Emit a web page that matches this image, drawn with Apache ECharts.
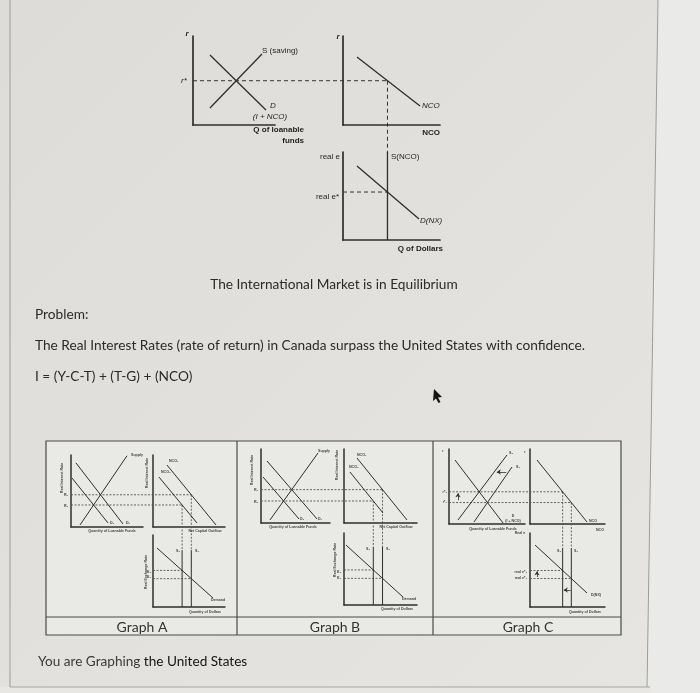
<!DOCTYPE html>
<html>
<head>
<meta charset="utf-8">
<script src="https://cdn.jsdelivr.net/npm/echarts@6/dist/echarts.min.js"></script>
<style>
html, body { margin: 0; padding: 0; background: #e3e2de; }
#main { width: 700px; height: 693px; }
</style>
</head>
<body>
<div id="main"></div>
<script>
// every curve is two points in its panel's own units (0..10 on both axes)

// textbook figure: loanable funds / NCO / market for dollars
var topSaving = [[2.07, 1.91], [8.41, 7.98]];
var topInvest = [[2.07, 7.87], [8.9, 1.69]];
var topNCO = [[1.44, 7.64], [7.94, 2.13]];
var topNX = [[1.44, 8.41], [7.84, 2.39]];
var topSLine = [0, 10];

// Graph A
var aSupply = [[1.25, 0.28], [7.78, 9.9]];
var aD1 = [[0.69, 8.9], [7.22, 0.42]];
var aD2 = [[0.14, 6.8], [5.14, 0.56]];
var aNCO1 = [[1.94, 8.61], [8.75, 0.28]];
var aNCO2 = [[0.83, 6.94], [6.11, 0.56]];
var aDemand = [[0.56, 8.19], [8.33, 1.25]];
var aSLine = [0, 7.9];

// Graph B
var bSupply = [[1.3, 0.41], [8.26, 9.46]];
var bD1 = [[0.87, 8.38], [8.12, 0.54]];
var bD2 = [[0.29, 6.22], [5.51, 0.54]];
var bNCO1 = [[1.78, 8.78], [8.63, 0.41]];
var bNCO2 = [[0.82, 6.89], [5.34, 1.35]];
var bDemand = [[0.27, 8.33], [8.08, 1.11]];
var bSLine = [0, 8.06];

// Graph C
var cS2 = [[1.18, 0.53], [7.63, 9.2]];
var cS1 = [[3.29, 0.27], [8.29, 7.6]];
var cD = [[0.79, 8.53], [7.11, 0.13]];
var cNCO = [[0.93, 8.53], [7.6, 0.27]];
var cNX = [[0.67, 8.38], [7.6, 1.89]];
var cSLine = [0, 7.97];

var graphCaptions = ['Graph A', 'Graph B', 'Graph C'];

function cross(p, q) {
    var x1 = p[0][0], y1 = p[0][1], x2 = p[1][0], y2 = p[1][1];
    var x3 = q[0][0], y3 = q[0][1], x4 = q[1][0], y4 = q[1][1];
    var d = (x1 - x2) * (y3 - y4) - (y1 - y2) * (x3 - x4);
    var a = x1 * y2 - y1 * x2, b = x3 * y4 - y3 * x4;
    return [(a * (x3 - x4) - (x1 - x2) * b) / d, (a * (y3 - y4) - (y1 - y2) * b) / d];
}
function xAt(p, y) { return p[0][0] + (y - p[0][1]) * (p[1][0] - p[0][0]) / (p[1][1] - p[0][1]); }
function yAt(p, x) { return p[0][1] + (x - p[0][0]) * (p[1][1] - p[0][1]) / (p[1][0] - p[0][0]); }

var chart = echarts.init(document.getElementById('main'));
var INK = '#2e2e2e';
var grids = [], xAxes = [], yAxes = [], series = [], graphics = [];

function panel(rect, axisW) {
    var i = grids.length;
    grids.push({ left: rect[0], top: rect[1], width: rect[2], height: rect[3] });
    var ax = {
        type: 'value', gridIndex: i, min: 0, max: 10,
        axisLine: { show: true, onZero: false, lineStyle: { color: INK, width: axisW } },
        axisTick: { show: false }, axisLabel: { show: false }, splitLine: { show: false }
    };
    xAxes.push(Object.assign({}, ax));
    yAxes.push(Object.assign({}, ax));
    return i;
}
function curve(p, pts, w) {
    series.push({
        type: 'line', xAxisIndex: p, yAxisIndex: p, data: pts, symbol: 'none',
        silent: true, clip: false, animation: false,
        lineStyle: { color: INK, width: w }
    });
}
function arrow(p, from, to) {
    series.push({
        type: 'lines', coordinateSystem: 'cartesian2d', xAxisIndex: p, yAxisIndex: p,
        silent: true, animation: false, symbol: ['none', 'arrow'], symbolSize: 4,
        lineStyle: { color: INK, width: 0.8, opacity: 1 },
        data: [{ coords: [from, to] }]
    });
}

function market(d) {
    var lf = panel(d.lf, d.axisW), nc = panel(d.nco, d.axisW), ex = panel(d.ex, d.axisW);
    d.lfCurves.forEach(function (c) { curve(lf, c, d.w); });
    d.ncoCurves.forEach(function (c) { curve(nc, c, d.w); });
    curve(ex, d.nx, d.w);
    var eq = d.eqs.map(function (k) {
        var r = cross(k[0], k[1])[1];
        var q = xAt(k[2], r);
        return { r: r, q: q, e: yAt(d.nx, q) };
    });
    eq.forEach(function (m) { curve(ex, [[m.q, d.sLine[0]], [m.q, d.sLine[1]]], d.w); });
    return { lf: lf, nc: nc, ex: ex, eq: eq, sTop: d.sLine[1], dash: d.dash, dw: d.dw };
}

var mTop = market({
    lf: [193, 36, 82, 89], nco: [343, 36, 97, 89], ex: [343, 152, 97, 88],
    lfCurves: [topSaving, topInvest], ncoCurves: [topNCO], nx: topNX,
    eqs: [[topSaving, topInvest, topNCO]], sLine: topSLine,
    w: 1.3, axisW: 1.7, dash: [4, 3], dw: 1
});
var mA = market({
    lf: [71, 455, 72, 72], nco: [153, 455, 72, 72], ex: [153, 535, 72, 72],
    lfCurves: [aSupply, aD1, aD2], ncoCurves: [aNCO1, aNCO2], nx: aDemand,
    eqs: [[aSupply, aD1, aNCO1], [aSupply, aD2, aNCO2]], sLine: aSLine,
    w: 1, axisW: 1.5, dash: [2, 1.5], dw: 0.9
});
var mB = market({
    lf: [261, 449, 69, 74], nco: [344, 449, 73, 74], ex: [344, 533, 73, 72],
    lfCurves: [bSupply, bD1, bD2], ncoCurves: [bNCO1, bNCO2], nx: bDemand,
    eqs: [[bSupply, bD1, bNCO1], [bSupply, bD2, bNCO2]], sLine: bSLine,
    w: 1, axisW: 1.5, dash: [2, 1.5], dw: 0.9
});
var mC = market({
    lf: [449, 449, 76, 75], nco: [530, 449, 75, 75], ex: [530, 533, 75, 74],
    lfCurves: [cS2, cS1, cD], ncoCurves: [cNCO], nx: cNX,
    eqs: [[cS2, cD, cNCO], [cS1, cD, cNCO]], sLine: cSLine,
    w: 1, axisW: 1.5, dash: [2, 1.5], dw: 0.9
});

// shift arrows in graph C
var c2 = mC.eq[0], c1 = mC.eq[1];
arrow(mC.lf, [1.18, c1.r + 0.3], [1.18, c2.r - 0.2]);
arrow(mC.lf, [xAt(cS1, 6.93) - 0.3, 6.93], [xAt(cS2, 6.93) + 0.35, 6.93]);
arrow(mC.ex, [0.93, c1.e + 0.2], [0.93, c2.e - 0.1]);
arrow(mC.ex, [c1.q - 0.1, 2.3], [c2.q + 0.15, 2.3]);

chart.setOption({
    animation: false,
    grid: grids, xAxis: xAxes, yAxis: yAxes, series: series
});

// ---- page background, table and pointer
graphics.push({ type: 'rect', z: -10, silent: true, shape: { x: 0, y: 0, width: 700, height: 693 },
    style: { fill: { type: 'linear', x: 0, y: 0, x2: 1, y2: 1,
        colorStops: [{ offset: 0, color: '#dddcd8' }, { offset: 1, color: '#e6e5e1' }] } } });
graphics.push({ type: 'polygon', z: -9, silent: true, shape: { points: [[658, 0], [700, 0], [700, 693], [646, 693]] },
    style: { fill: '#eaeae8' } });
graphics.push({ type: 'rect', z: -9, silent: true, shape: { x: 0, y: 687, width: 650, height: 6 }, style: { fill: '#e8e7e3' } });
function seg(pts, color, w, dash, z) {
    graphics.push({ type: 'polyline', z: z || -5, silent: true, shape: { points: pts },
        style: { stroke: color, lineWidth: w, lineDash: dash || null, fill: null } });
}
seg([[10, 0], [10, 687]], '#9b9b98', 1);
seg([[658, 0], [647, 687]], '#9b9b98', 1);
seg([[10, 687], [650, 687]], '#a5a5a2', 1);

graphics.push({ type: 'rect', z: -6, silent: true, shape: { x: 46, y: 441, width: 575, height: 194 },
    style: { fill: '#e9e9e6', stroke: '#4a4a4a', lineWidth: 1.2 } });
seg([[46, 617], [621, 617]], '#4a4a4a', 1.2);
seg([[237, 441], [237, 635]], '#4a4a4a', 1.2);
seg([[433, 441], [433, 635]], '#4a4a4a', 1.2);

graphics.push({ type: 'polygon', z: 6, silent: true,
    shape: { points: [[434, 389], [433, 401], [436, 398.5], [438.5, 403], [440.5, 402], [438, 397.5], [442, 397]] },
    style: { fill: '#151515' } });

// ---- dashed connectors between panels
function px(g, v) { return chart.convertToPixel({ gridIndex: g }, v); }
[mTop, mA, mB, mC].forEach(function (m) {
    var col = m === mTop ? '#333' : '#555';
    m.eq.forEach(function (k) {
        var a = px(m.lf, [0, k.r]), b = px(m.nc, [k.q, k.r]), c = px(m.ex, [k.q, m.sTop]);
        var e0 = px(m.ex, [0, k.e]), e1 = px(m.ex, [k.q, k.e]);
        seg([a, b], col, m.dw, m.dash, 3);
        seg([b, c], col, m.dw, m.dash, 3);
        seg([e0, e1], col, m.dw, m.dash, 3);
    });
});

// ---- text
function txt(x, y, s, st, align, rot) {
    graphics.push({
        type: 'text', x: x, y: y, rotation: rot || 0, z: 5, silent: true,
        style: {
            text: s, fontSize: st[0], fontFamily: st[1], fontWeight: st[2] || 'normal',
            fontStyle: st[3] || 'normal', fill: st[4] || '#333',
            textAlign: align || 'left', align: align || 'left',
            textVerticalAlign: 'middle', verticalAlign: 'middle'
        }
    });
}
var BODY = [13.7, 'Lato', 'normal', 'normal', '#2a2a2a'];
var CAP = [14, 'Lato', 'normal', 'normal', '#333'];
var FIG = [8, 'Liberation Sans', 'normal', 'normal', '#1e1e1e'];
var FIGB = [8, 'Liberation Sans', 'bold', 'normal', '#1e1e1e'];
var FIGI = [8, 'Liberation Sans', 'normal', 'italic', '#1e1e1e'];
var FIGBI = [8, 'Liberation Sans', 'bold', 'italic', '#1e1e1e'];
var TINY = [3.6, 'Liberation Sans', 'bold', 'normal', '#444'];
var UP = Math.PI / 2;

// textbook figure labels
txt(187, 34, 'r', FIGBI, 'center');
txt(262, 51, 'S (saving)', FIG);
txt(184, 81, 'r*', FIGI, 'center');
txt(273, 106, 'D', FIGI, 'center');
txt(270, 117, '(I + NCO)', FIGI, 'center');
txt(304, 130, 'Q of loanable', FIGB, 'right');
txt(304, 141, 'funds', FIGB, 'right');
txt(338, 37, 'r', FIGBI, 'center');
txt(422, 106, 'NCO', FIGI);
txt(440, 133, 'NCO', FIGB, 'right');
txt(340, 157, 'real e', FIG, 'right');
txt(391, 157, 'S(NCO)', FIG);
txt(339, 197, 'real e*', FIG, 'right');
txt(420, 221, 'D(NX)', FIGI);
txt(443, 249, 'Q of Dollars', FIGB, 'right');

// prose
txt(334, 285, 'The International Market is in Equilibrium', BODY, 'center');
txt(35, 315, 'Problem:', BODY);
txt(35, 346, 'The Real Interest Rates (rate of return) in Canada surpass the United States with confidence.', BODY);
txt(35, 377, 'I = (Y-C-T) + (T-G) + (NCO)', BODY);
graphics.push({
    type: 'text', x: 38, y: 662, z: 5, silent: true,
    style: {
        text: '{a|You are Graphing }{b|the United States}',
        textVerticalAlign: 'middle', verticalAlign: 'middle',
        rich: {
            a: { fontSize: 13.6, fontFamily: 'Lato', fill: '#3a3a3a', color: '#3a3a3a' },
            b: { fontSize: 13.6, fontFamily: 'Lato', fill: '#141414', color: '#141414' }
        }
    }
});
txt(142, 627, graphCaptions[0], CAP, 'center');
txt(335, 627, graphCaptions[1], CAP, 'center');
txt(528, 627, graphCaptions[2], CAP, 'center');

// Graph A labels
txt(62, 478, 'Real Interest Rate', TINY, 'center', UP);
txt(66, 495, 'R\u2081', TINY, 'center');
txt(66, 506, 'R\u2082', TINY, 'center');
txt(131, 455, 'Supply', TINY);
txt(110, 523, 'D\u2082', TINY);
txt(126, 523, 'D\u2081', TINY);
txt(112, 531, 'Quantity of Loanable Funds', TINY, 'center');
txt(147, 473, 'Real Interest Rate', TINY, 'center', UP);
txt(169, 461, 'NCO\u2081', TINY);
txt(161, 472, 'NCO\u2082', TINY);
txt(205, 531, 'Net Capital Outflow', TINY, 'center');
txt(146, 572, 'Real Exchange Rate', TINY, 'center', UP);
txt(180, 551, 'S\u2082', TINY, 'right');
txt(195, 551, 'S\u2081', TINY);
txt(149, 572, 'E\u2082', TINY, 'center');
txt(149, 577, 'E\u2081', TINY, 'center');
txt(211, 600, 'Demand', TINY);
txt(205, 612, 'Quantity of Dollars', TINY, 'center');

// Graph B labels
txt(252, 470, 'Real Interest Rate', TINY, 'center', UP);
txt(256, 490, 'R\u2081', TINY, 'center');
txt(256, 502, 'R\u2082', TINY, 'center');
txt(318, 451, 'Supply', TINY);
txt(300, 519, 'D\u2082', TINY);
txt(318, 519, 'D\u2081', TINY);
txt(293, 527, 'Quantity of Loanable Funds', TINY, 'center');
txt(337, 465, 'Real Interest Rate', TINY, 'center', UP);
txt(357, 455, 'NCO\u2081', TINY);
txt(349, 467, 'NCO\u2082', TINY);
txt(396, 527, 'Net Capital Outflow', TINY, 'center');
txt(335, 560, 'Real Exchange Rate', TINY, 'center', UP);
txt(370, 549, 'S\u2082', TINY, 'right');
txt(386, 549, 'S\u2081', TINY);
txt(339, 572, 'E\u2082', TINY, 'center');
txt(339, 578, 'E\u2081', TINY, 'center');
txt(402, 599, 'Demand', TINY);
txt(397, 609, 'Quantity of Dollars', TINY, 'center');

// Graph C labels
txt(443, 451, 'r', TINY, 'center');
txt(447, 492, 'r*\u2082', TINY, 'right');
txt(447, 502, 'r*\u2081', TINY, 'right');
txt(509, 453, 'S\u2082', TINY);
txt(516, 467, 'S\u2081', TINY);
txt(513, 516, 'D', TINY, 'center');
txt(513, 520.5, '(I + NCO)', TINY, 'center');
txt(493, 529, 'Quantity of Loanable Funds', TINY, 'center');
txt(525, 452, 'r', TINY, 'center');
txt(589, 521, 'NCO', TINY);
txt(604, 530, 'NCO', TINY, 'right');
txt(520, 533, 'Real e', TINY, 'center');
txt(561, 551, 'S\u2082', TINY, 'right');
txt(574, 551, 'S\u2081', TINY);
txt(527, 572, 'real e*\u2082', TINY, 'right');
txt(527, 578, 'real e*\u2081', TINY, 'right');
txt(591, 595, 'D(NX)', TINY);
txt(585, 612, 'Quantity of Dollars', TINY, 'center');

chart.setOption({ graphic: graphics });
</script>
</body>
</html>
